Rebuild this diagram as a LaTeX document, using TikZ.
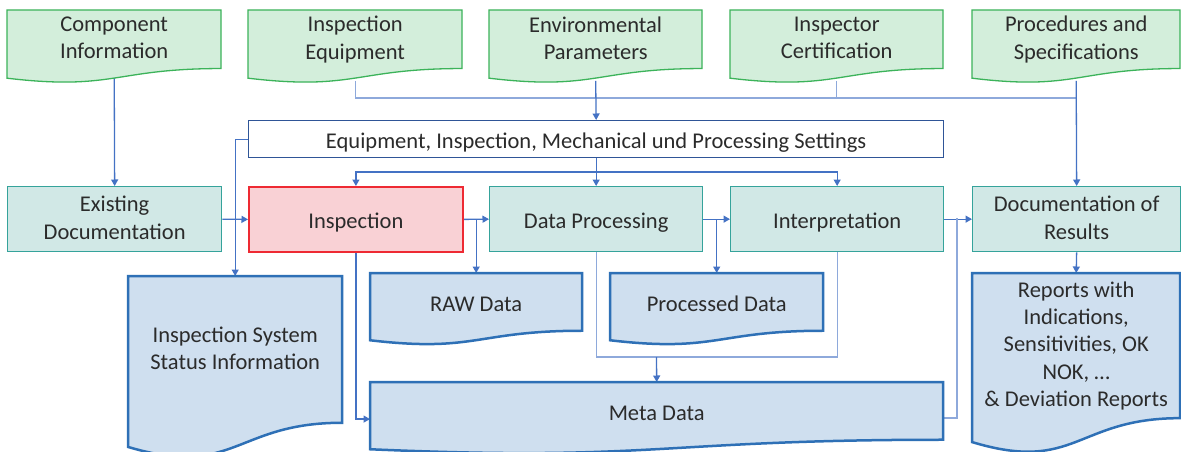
\documentclass[tikz,border=0pt]{standalone}
\usepackage{fontspec}
\setmainfont{Carlito}
\usetikzlibrary{arrows.meta}
\pgfdeclarelayer{back}\pgfdeclarelayer{bg}\pgfsetlayers{back,bg,main}
\definecolor{gfill}{HTML}{D3EEDB}
\definecolor{gline}{HTML}{3CB35A}
\definecolor{tfill}{HTML}{D1E8E6}
\definecolor{tline}{HTML}{35A39B}
\definecolor{rfill}{HTML}{F9D1D5}
\definecolor{rline}{HTML}{EE2A33}
\definecolor{bfill}{HTML}{CFDFEF}
\definecolor{bline}{HTML}{2E70B6}
\definecolor{sline}{HTML}{2F5597}
\definecolor{aline}{HTML}{4472C4}
\definecolor{lline}{HTML}{8EA9DB}
\definecolor{txtc}{HTML}{2B2B2B}
\newcommand\docbox[7]{%
  \draw[#1] (#3,#4) -- ({#3+#5},#4) -- ({#3+#5},{#4+0.802*#6})
    .. controls ({#3+0.5*#5},{#4+0.802*#6}) and ({#3+0.5*#5},{#4+1.1075*#6}) ..
    (#3,{#4+0.934*#6}) -- cycle;
  \node[txt, minimum width=#5, minimum height={0.802*#6}, anchor=north west] (#2) at (#3,#4) {#7};
}
\begin{document}
\begin{tikzpicture}[x=1pt,y=-1pt,
  txt/.style={align=center, inner sep=0pt, text=txtc, font=\fontsize{22.5}{27.3}\selectfont,
    execute at begin node={\rule{0pt}{22pt}}, execute at end node={\rule[-3pt]{0pt}{3pt}}},
  gdoc/.style={fill=gfill, draw=gline, line width=1.3pt},
  bdoc/.style={fill=bfill, draw=bline, line width=2.5pt},
  tbox/.style={txt, rectangle, fill=tfill, draw=tline, line width=1.3pt, anchor=north west},
  rbox/.style={txt, rectangle, fill=rfill, draw=rline, line width=1.8pt, anchor=north west},
  sbox/.style={txt, rectangle, fill=white, draw=sline, line width=1.3pt, anchor=north west},
  arr/.style={draw=aline, line width=1.3pt, -{Triangle[width=7pt,length=6.5pt]}},
  lin/.style={draw=lline, line width=1.2pt}
]
\useasboundingbox (0,0) rectangle (1181,452);
\begin{pgfonlayer}{back}
\fill[white] (0,0) rectangle (1181,452);
\end{pgfonlayer}
% top documents
\docbox{gdoc}{ci}{7}{10}{214}{73}{Component\\Information}
\docbox{gdoc}{ie}{248}{10}{214}{73}{Inspection\\Equipment}
\docbox{gdoc}{ep}{489}{10}{213}{73}{Environmental\\Parameters}
\docbox{gdoc}{ic}{730}{10}{213}{73}{Inspector\\Certification}
\docbox{gdoc}{ps}{972}{10}{208}{73}{Procedures and\\Specifications}
% settings
\node[sbox, minimum width=695, minimum height=37] (set) at (248,120) {Equipment, Inspection, Mechanical und Processing Settings};
% row 2
\node[tbox, minimum width=214, minimum height=65] (ed) at (7,186) {Existing\\Documentation};
\node[rbox, minimum width=214, minimum height=65] (insp) at (248,186) {Inspection};
\node[tbox, minimum width=213, minimum height=65] (dp) at (489,186) {Data Processing};
\node[tbox, minimum width=213, minimum height=65] (interp) at (730,186) {Interpretation};
\node[tbox, minimum width=208, minimum height=65] (dr) at (972,186) {Documentation of\\Results};
% blue documents
\docbox{bdoc}{raw}{370}{273}{212}{72}{RAW Data}
\docbox{bdoc}{proc}{610}{273}{213}{72}{Processed Data}
\docbox{bdoc}{meta}{370}{382}{573}{72}{Meta Data}
\docbox{bdoc}{iss}{128}{276}{214}{183}{Inspection System\\Status Information}
\docbox{bdoc}{rep}{972}{273}{208}{181}{Reports with\\Indications,\\Sensitivities, OK\\NOK, \dots\\\& Deviation Reports}
% connectors
\begin{pgfonlayer}{bg}
\coordinate (bus) at (0,98);
\coordinate (bus2) at (0,172);
\coordinate (mj) at (656.5,357);
\coordinate (j3) at (957,218);
\draw[arr] (ci.south) -- (ed.north);
\draw[lin] ([yshift=-12pt]ie.south) -- (ie.south |- bus) -- (ps.south |- bus);
\draw[lin] ([yshift=-12pt]ic.south) -- (ic.south |- bus);
\draw[arr] ([yshift=-12pt]ep.south) -- (set.north);
\draw[arr] ([yshift=-12pt]ps.south) -- (dr.north);
\draw[arr] (set.west) -| (iss.north);
\draw[arr] (ed.east) -- (insp.west);
\draw[arr] (set.south) -- (dp.north);
\draw[arr] (set.south |- bus2) -| (insp.north);
\draw[arr] (set.south |- bus2) -| (interp.north);
\draw[arr] (insp.east) -- (dp.west);
\draw[arr] (insp.east -| raw.north) -- (raw.north);
\draw[arr] (dp.east) -- (interp.west);
\draw[arr] (dp.east -| proc.north) -- (proc.north);
\draw[arr] (interp.east) -- (dr.west);
\draw[lin] ([yshift=-7pt]meta.east) -| (j3);
\draw[arr] (insp.south) |- ([yshift=-8pt]meta.west);
\draw[lin] ([yshift=12pt]dp.south) |- (mj) -| ([yshift=12pt]interp.south);
\draw[arr] (mj) -- (meta.north);
\draw[arr] (dr.south) -- (rep.north);
\end{pgfonlayer}
\end{tikzpicture}
\end{document}
